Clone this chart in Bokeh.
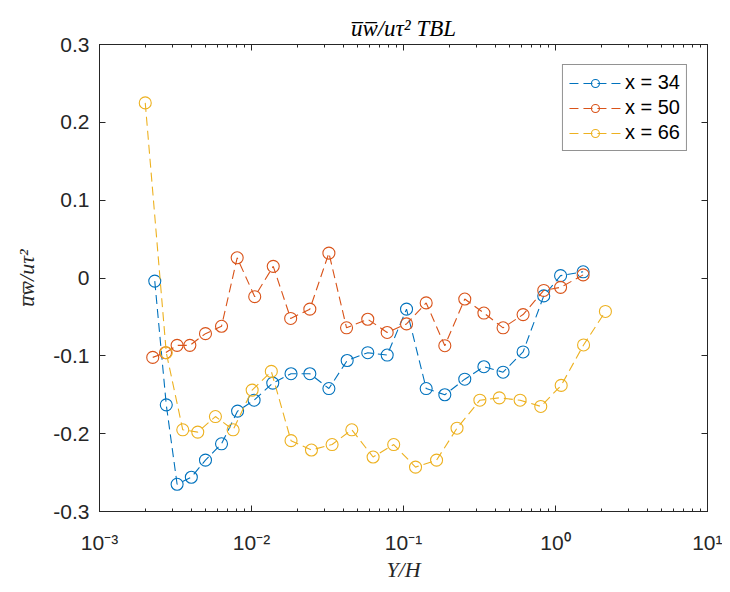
from bokeh.plotting import figure
from bokeh.models import (LogAxis, LinearAxis, FixedTicker, LogTicker, CustomJSTickFormatter,
                          Legend, LegendItem, Range1d)
from bokeh.embed import file_html
from bokeh.resources import INLINE

# ---- data ----
y_h_34 = [0.00231, 0.00275, 0.00324, 0.00402, 0.00498, 0.00635, 0.0081, 0.0104, 0.0138, 0.0182,
          0.0242, 0.0323, 0.0426, 0.0582, 0.0781, 0.1047, 0.141, 0.187, 0.253, 0.338, 0.452,
          0.612, 0.837, 1.08, 1.52]
uw_34 = [-0.004, -0.163, -0.265, -0.256, -0.234, -0.213, -0.171, -0.157, -0.135, -0.123,
         -0.123, -0.142, -0.106, -0.096, -0.099, -0.040, -0.142, -0.150, -0.130, -0.114, -0.121,
         -0.095, -0.023, 0.003, 0.008]

y_h_50 = [0.00224, 0.00272, 0.00324, 0.00393, 0.00498, 0.00635, 0.00805, 0.0105, 0.0139, 0.0181,
          0.0242, 0.0323, 0.0422, 0.0582, 0.0781, 0.1047, 0.141, 0.187, 0.253, 0.338, 0.452,
          0.612, 0.837, 1.08, 1.52]
uw_50 = [-0.102, -0.096, -0.0865, -0.0865, -0.0715, -0.062, 0.026, -0.024, 0.015, -0.052,
         -0.040, 0.032, -0.064, -0.053, -0.070, -0.059, -0.032, -0.087, -0.027, -0.045, -0.064,
         -0.047, -0.016, -0.012, 0.004]

y_h_66 = [0.0020, 0.00275, 0.00353, 0.00443, 0.00579, 0.00757, 0.0101, 0.0135, 0.0182, 0.0248,
          0.0339, 0.0457, 0.0631, 0.0862, 0.120, 0.165, 0.225, 0.318, 0.427, 0.585, 0.80,
          1.09, 1.53, 2.13]
uw_66 = [0.225, -0.096, -0.195, -0.198, -0.178, -0.195, -0.144, -0.120, -0.209, -0.221,
         -0.214, -0.195, -0.230, -0.214, -0.243, -0.234, -0.193, -0.157, -0.154, -0.157, -0.165,
         -0.138, -0.086, -0.043]

series_labels = ["x = 34", "x = 50", "x = 66"]
series_colors = ["#0072BD", "#D95319", "#EDB120"]
y_ticks = [-0.3, -0.2, -0.1, 0.0, 0.1, 0.2, 0.3]

AX = "#262626"
SANS = "Liberation Sans"
SERIF = "Liberation Serif"

p = figure(width=722, height=584, x_axis_type="log",
           x_range=Range1d(1e-3, 1e1), y_range=Range1d(-0.3, 0.3),
           output_backend="svg", toolbar_location=None,
           min_border_left=99, min_border_right=15, min_border_top=44, min_border_bottom=71)
p.background_fill_color = "white"
p.border_fill_color = "white"
p.outline_line_color = AX
p.outline_line_width = 1
p.grid.visible = False

p.title.text = "u\u0305w\u0305/u\u03c4\u00b2 TBL"
p.title.align = "center"
p.title.text_font = SERIF
p.title.text_font_style = "italic"
p.title.text_font_size = "23px"
p.title.text_color = "black"
p.title.standoff = 8

log_fmt = CustomJSTickFormatter(code="""
const e = Math.round(Math.log10(tick));
const sup = {"-":"\u207b","0":"\u2070","1":"\u00b9","2":"\u00b2","3":"\u00b3","4":"\u2074",
             "5":"\u2075","6":"\u2076","7":"\u2077","8":"\u2078","9":"\u2079"};
return "10" + String(e).split("").map(c => sup[c]).join("");
""")
y_fmt = CustomJSTickFormatter(code="""
if (Math.abs(tick) < 1e-9) return "0";
return tick.toFixed(1);
""")
blank_fmt = CustomJSTickFormatter(code="return '';")

def style_axis(ax):
    ax.axis_line_color = AX
    ax.axis_line_width = 1
    ax.major_tick_line_color = AX
    ax.minor_tick_line_color = AX
    ax.major_tick_line_width = 1
    ax.minor_tick_line_width = 1
    ax.major_tick_in = 6
    ax.major_tick_out = 0
    ax.minor_tick_in = 3
    ax.minor_tick_out = 0
    ax.major_label_text_color = AX
    ax.major_label_text_font = SANS
    ax.major_label_text_font_size = "21px"

xticker = LogTicker(num_minor_ticks=10)
yticker = FixedTicker(ticks=y_ticks)

xa = p.xaxis[0]
xa.ticker = xticker
xa.formatter = log_fmt
style_axis(xa)
xa.major_label_standoff = 19
xa.axis_label = "Y/H"
xa.axis_label_text_font = SERIF
xa.axis_label_text_font_style = "italic"
xa.axis_label_text_font_size = "22px"
xa.axis_label_text_color = AX
xa.axis_label_standoff = 0

ya = p.yaxis[0]
ya.ticker = yticker
ya.formatter = y_fmt
style_axis(ya)
ya.major_label_standoff = 10
ya.axis_label = "u\u0305w\u0305/u\u03c4\u00b2"
ya.axis_label_text_font = SERIF
ya.axis_label_text_font_style = "italic"
ya.axis_label_text_font_size = "22px"
ya.axis_label_text_color = AX
ya.axis_label_standoff = 11

top = LogAxis(ticker=xticker, formatter=blank_fmt)
style_axis(top)
top.major_label_standoff = 0
p.add_layout(top, "above")
right = LinearAxis(ticker=yticker, formatter=blank_fmt)
style_axis(right)
right.major_label_standoff = 0
p.add_layout(right, "right")

items = []
for xs, ys, lab, col in [(y_h_34, uw_34, series_labels[0], series_colors[0]),
                         (y_h_50, uw_50, series_labels[1], series_colors[1]),
                         (y_h_66, uw_66, series_labels[2], series_colors[2])]:
    ln = p.line(xs, ys, line_color=col, line_width=1.1, line_dash="9 5")
    sc = p.scatter(xs, ys, marker="circle", size=12, fill_color=None,
                   line_color=col, line_width=1.1)
    items.append(LegendItem(label=lab, renderers=[ln, sc]))

legend = Legend(items=items, location="top_right", margin=20,
                glyph_width=52, glyph_height=20, label_height=20, spacing=2,
                padding=6, label_standoff=4,
                label_text_font=SANS, label_text_font_size="20px", label_text_color="black",
                border_line_color=AX, border_line_width=1, background_fill_color="white",
                background_fill_alpha=1)
p.add_layout(legend, "center")

open("out.html", "w").write(file_html(p, INLINE))
